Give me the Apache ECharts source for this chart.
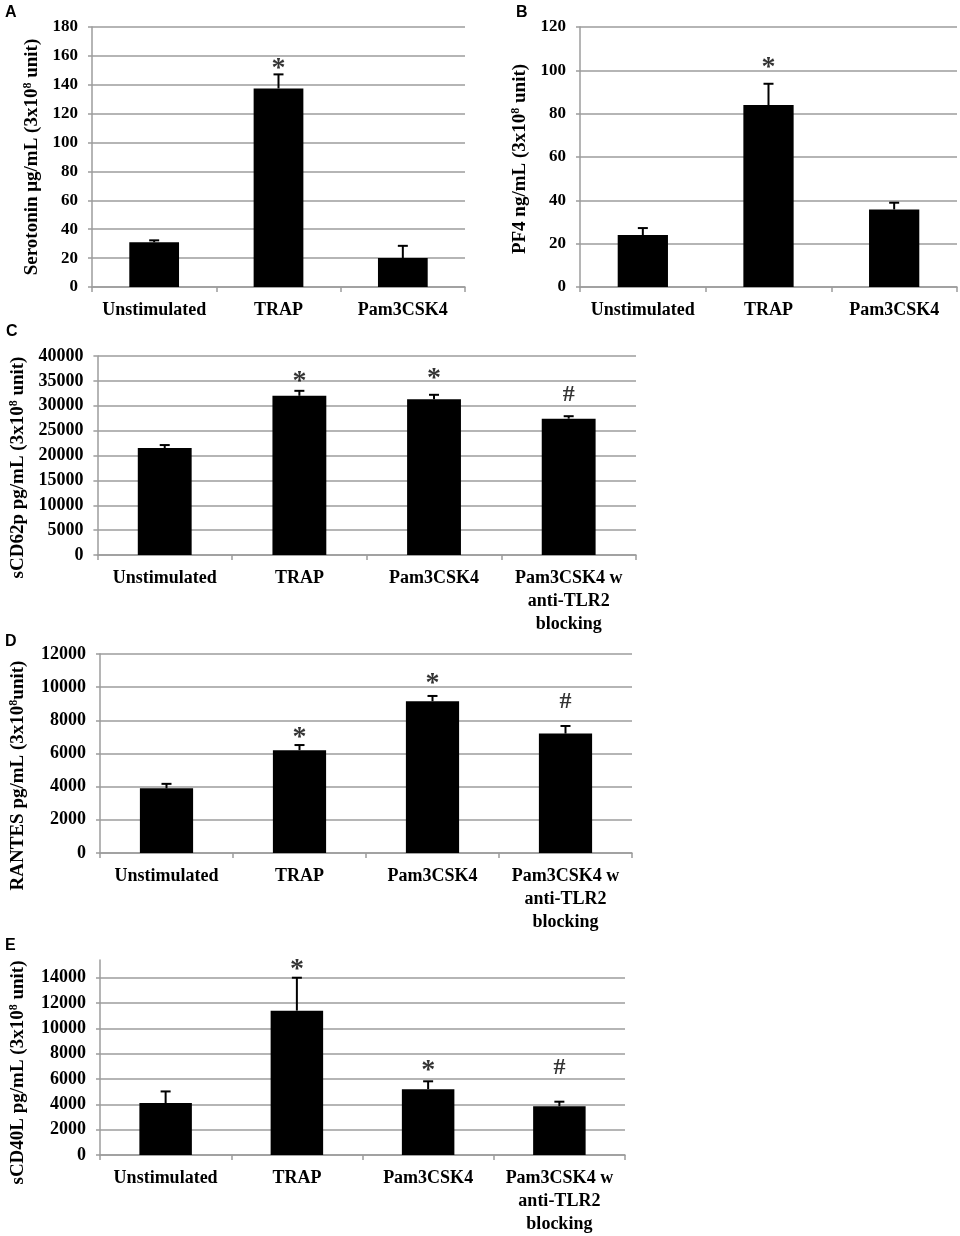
<html>

<head>
    <script src="https://cdn.jsdelivr.net/npm/echarts@6/dist/echarts.min.js"></script>
</head>
<style>
    body {
        margin: 0;
        background: #fff;
    }

    #fig {
        width: 960px;
        height: 1236px;
    }
</style>

<body>
    <div id="fig"></div>
    <script>
        // categories
        const cats3 = ['Unstimulated', 'TRAP', 'Pam3CSK4']
        const cats4 = ['Unstimulated', 'TRAP', 'Pam3CSK4', 'Pam3CSK4 w\nanti-TLR2\nblocking']

        // A - serotonin
        const serotonin = [31, 137.5, 20]
        const serotoninErr = [1.3, 9.7, 8.5]
        const serotoninMarks = ['', '*', '']
        const serotoninMarkAt = [null, 155, null]
        const serotoninAxis = [0, 180, 20]   // min, max, step

        // B - PF4
        const pf4 = [24, 84, 35.8]
        const pf4Err = [3.2, 9.8, 3.1]
        const pf4Marks = ['', '*', '']
        const pf4MarkAt = [null, 104, null]
        const pf4Axis = [0, 120, 20]

        // C - sCD62p
        const scd62p = [21500, 32000, 31300, 27400]
        const scd62pErr = [600, 1000, 900, 500]
        const scd62pMarks = ['', '*', '*', '#']
        const scd62pMarkAt = [null, 36000, 36600, 32200]
        const scd62pAxis = [0, 40000, 5000]

        // D - RANTES
        const rantes = [3900, 6200, 9150, 7200]
        const rantesErr = [270, 310, 320, 460]
        const rantesMarks = ['', '*', '*', '#']
        const rantesMarkAt = [null, 7300, 10550, 9100]
        const rantesAxis = [0, 12000, 2000]

        // E - sCD40L
        const scd40l = [4100, 11400, 5200, 3850]
        const scd40lErr = [920, 2600, 620, 360]
        const scd40lMarks = ['', '*', '*', '#']
        const scd40lMarkAt = [null, 15100, 7100, 6900]
        const scd40lAxis = [0, 15400, 2000]

        const serif = "'Liberation Serif', 'Times New Roman', serif"
        const gridColor = '#9c9c9c'

        // shift = extra padding that nudges the rotated y title down along the axis
        const panels = [
            { letter: 'A', cats: cats3, vals: serotonin, err: serotoninErr, marks: serotoninMarks, markAt: serotoninMarkAt, axis: serotoninAxis,
              name: ['Serotonin μg/mL (3x10', '8', ' unit)'], grid: { left: 92, top: 27, width: 373, height: 260 }, gap: 50, shift: 0, tickSize: 17, letterPos: [5, 5] },
            { letter: 'B', cats: cats3, vals: pf4, err: pf4Err, marks: pf4Marks, markAt: pf4MarkAt, axis: pf4Axis,
              name: ['PF4 ng/mL (3x10', '8', ' unit)'], grid: { left: 580, top: 27, width: 377, height: 260 }, gap: 50, shift: 4, tickSize: 17, letterPos: [516, 5] },
            { letter: 'C', cats: cats4, vals: scd62p, err: scd62pErr, marks: scd62pMarks, markAt: scd62pMarkAt, axis: scd62pAxis,
              name: ['sCD62p pg/mL (3x10', '8', ' unit)'], grid: { left: 90, top: 356, width: 546, height: 199 }, gap: 66, shift: 24, tickSize: 18, letterPos: [6, 324] },
            { letter: 'D', cats: cats4, vals: rantes, err: rantesErr, marks: rantesMarks, markAt: rantesMarkAt, axis: rantesAxis,
              name: ['RANTES pg/mL (3x10', '8', 'unit)'], grid: { left: 96, top: 654, width: 536, height: 199 }, gap: 72, shift: 44, tickSize: 18, letterPos: [5, 634] },
            { letter: 'E', cats: cats4, vals: scd40l, err: scd40lErr, marks: scd40lMarks, markAt: scd40lMarkAt, axis: scd40lAxis,
              name: ['sCD40L pg/mL (3x10', '8', ' unit)'], grid: { left: 96, top: 960, width: 529, height: 197 }, gap: 72, shift: 30, tickSize: 18, letterPos: [5, 938] }
        ]

        function renderErr(params, api) {
            const lo = api.coord([api.value(0), api.value(1)])
            const hi = api.coord([api.value(0), api.value(2)])
            const hw = 5
            const st = { stroke: '#000', lineWidth: 2 }
            return {
                type: 'group',
                children: [
                    { type: 'line', shape: { x1: lo[0], y1: lo[1], x2: hi[0], y2: hi[1] }, style: st },
                    { type: 'line', shape: { x1: hi[0] - hw, y1: hi[1], x2: hi[0] + hw, y2: hi[1] }, style: st }
                ]
            }
        }

        let option = {
            animation: false,
            backgroundColor: '#fff',
            title: [],
            grid: [],
            xAxis: [],
            yAxis: [],
            series: []
        }

        panels.forEach(function (p, i) {
            option.title.push({
                text: p.letter, left: p.letterPos[0], top: p.letterPos[1], padding: 0,
                textStyle: { fontFamily: "'Liberation Sans', Arial, sans-serif", fontWeight: 'bold', fontSize: 16, color: '#000' }
            })
            option.grid.push(Object.assign({ containLabel: false }, p.grid))
            option.xAxis.push({
                type: 'category', gridIndex: i, data: p.cats, boundaryGap: true,
                axisLine: { show: true, lineStyle: { color: gridColor, width: 1.5 } },
                axisTick: { show: true, length: 5, interval: 0, lineStyle: { color: gridColor, width: 1.5 } },
                axisLabel: { interval: 0, margin: 12, color: '#000', fontFamily: serif, fontWeight: 'bold', fontSize: 18, lineHeight: 23 }
            })
            option.yAxis.push({
                type: 'value', gridIndex: i, min: p.axis[0], max: p.axis[1], interval: p.axis[2],
                name: '{t|' + p.name[0] + '}{s|' + p.name[1] + '}{t|' + p.name[2] + '}',
                nameLocation: 'middle', nameGap: p.gap, nameRotate: 90,
                nameTextStyle: {
                    padding: [0, p.shift, 0, 0],
                    rich: {
                        t: { fontFamily: serif, fontWeight: 'bold', fontSize: 19, color: '#000', lineHeight: 20 },
                        s: { fontFamily: serif, fontWeight: 'bold', fontSize: 12, color: '#000', verticalAlign: 'top', lineHeight: 20 }
                    }
                },
                axisLine: { show: true, lineStyle: { color: gridColor, width: 1.5 } },
                axisTick: { show: true, length: 4, lineStyle: { color: gridColor, width: 1.5 } },
                axisLabel: {
                    margin: 14, color: '#000', fontFamily: serif, fontWeight: 'bold', fontSize: p.tickSize,
                    showMaxLabel: p.axis[1] % p.axis[2] === 0,
                    formatter: function (v) { return String(v) }
                },
                splitLine: { show: true, showMaxLine: p.axis[1] % p.axis[2] === 0, lineStyle: { color: gridColor, width: 1.5 } }
            })
            option.series.push({
                type: 'bar', xAxisIndex: i, yAxisIndex: i, data: p.vals, barWidth: '40%',
                itemStyle: { color: '#000' }
            })
            option.series.push({
                type: 'custom', xAxisIndex: i, yAxisIndex: i, z: 3,
                renderItem: renderErr,
                data: p.vals.map(function (v, k) { return [k, v, v + p.err[k]] })
            })
            const markData = []
            p.marks.forEach(function (m, k) {
                if (!m) return
                markData.push({
                    value: [k, p.markAt[k]],
                    label: {
                        formatter: m,
                        fontSize: m === '*' ? 28 : 24,
                        offset: [0, m === '*' ? 6 : 0]
                    }
                })
            })
            option.series.push({
                type: 'scatter', xAxisIndex: i, yAxisIndex: i, symbolSize: 0, z: 4,
                data: markData,
                label: { show: true, position: 'inside', color: '#000', fontFamily: serif, fontWeight: 'bold' }
            })
        })

        const myChart = echarts.init(document.getElementById('fig'))
        myChart.setOption(option)
    </script>
</body>

</html>
